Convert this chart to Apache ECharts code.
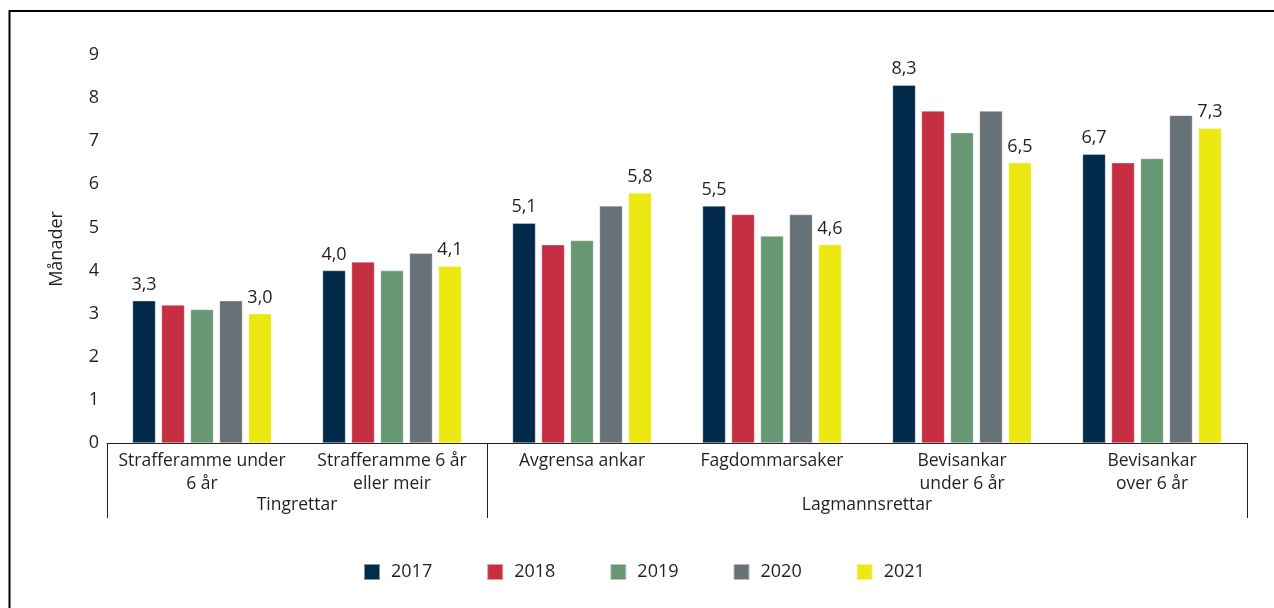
<!DOCTYPE html>
<html>
<head>
<meta charset="utf-8">
<script src="https://cdn.jsdelivr.net/npm/echarts@6/dist/echarts.min.js"></script>
<style>
  html, body { margin: 0; padding: 0; background: #fff; }
  #chart { width: 1274px; height: 608px; }
</style>
</head>
<body>
<div id="chart"></div>
<script>
// kategoriar og grupper
var categories = ['Strafferamme under\n6 år', 'Strafferamme 6 år\neller meir', 'Avgrensa ankar',
                  'Fagdommarsaker', 'Bevisankar\nunder 6 år', 'Bevisankar\nover 6 år'];
var groupNames = ['Tingrettar', 'Lagmannsrettar'];
var groupSpans = [2, 4];

var years = ['2017', '2018', '2019', '2020', '2021'];
var v2017 = [3.3, 4.0, 5.1, 5.5, 8.3, 6.7];
var v2018 = [3.2, 4.2, 4.6, 5.3, 7.7, 6.5];
var v2019 = [3.1, 4.0, 4.7, 4.8, 7.2, 6.6];
var v2020 = [3.3, 4.4, 5.5, 5.3, 7.7, 7.6];
var v2021 = [3.0, 4.1, 5.8, 4.6, 6.5, 7.3];
var yTicks = [0, 1, 2, 3, 4, 5, 6, 7, 8, 9];

var colors = ['#022b4b', '#c62f41', '#689873', '#677278', '#ece812'];
var values = [v2017, v2018, v2019, v2020, v2021];
var labelled = [true, false, false, false, true]; // berre 2017 og 2021 har tal

var font = 'Open Sans';
var ink = '#231f20';

// grenser og midtpunkt for gruppene
var bounds = [0], centers = [];
groupSpans.forEach(function (s) {
    var start = bounds[bounds.length - 1];
    centers.push(start + s / 2);
    bounds.push(start + s);
});

var series = years.map(function (y, i) {
    return {
        name: y,
        type: 'bar',
        xAxisIndex: 0,
        barWidth: 23,
        barGap: '26%',
        data: values[i],
        itemStyle: { color: colors[i], borderColor: 'rgba(255,255,255,0.5)', borderWidth: 0.6 },
        label: {
            show: labelled[i],
            position: 'top',
            distance: 7,
            color: ink,
            fontFamily: font,
            fontSize: 18,
            formatter: function (p) { return p.value.toFixed(1).replace('.', ','); }
        }
    };
});

var option = {
    animation: false,
    color: colors,
    textStyle: { fontFamily: font },
    graphic: [{
        type: 'rect',
        shape: { x: 9.5, y: 11, width: 1400, height: 800 },
        style: { fill: 'none', stroke: '#000', lineWidth: 2 },
        silent: true
    }],
    grid: { left: 107, right: 27, top: 55, bottom: 165 },
    legend: {
        bottom: 22,
        left: 358,
        icon: 'rect',
        itemWidth: 16,
        itemHeight: 16,
        itemGap: 54,
        textStyle: { fontFamily: font, fontSize: 18, color: ink, padding: [0, 0, 0, 6] },
        data: years
    },
    xAxis: [{
        type: 'category',
        data: categories,
        axisLine: { show: true, lineStyle: { color: ink, width: 1 } },
        axisTick: { show: false },
        axisLabel: {
            interval: 0,
            margin: 7,
            color: ink,
            fontFamily: font,
            fontSize: 17.5,
            lineHeight: 23
        }
    }, {
        type: 'value',
        min: 0,
        max: categories.length,
        position: 'bottom',
        axisLine: { show: false },
        splitLine: { show: false },
        axisTick: {
            show: true,
            customValues: bounds,
            length: 75,
            lineStyle: { color: ink, width: 1 }
        },
        axisLabel: {
            show: true,
            customValues: centers,
            margin: 53,
            color: ink,
            fontFamily: font,
            fontSize: 17.5,
            formatter: function (v) { return groupNames[centers.indexOf(v)]; }
        }
    }],
    yAxis: {
        type: 'value',
        min: yTicks[0],
        max: yTicks[yTicks.length - 1],
        interval: 1,
        name: 'Månader',
        nameLocation: 'middle',
        nameGap: 41,
        nameTextStyle: { fontFamily: font, fontSize: 18, color: ink },
        axisLine: { show: false },
        axisTick: { show: false },
        splitLine: { show: false },
        axisLabel: {
            margin: 8,
            color: ink,
            fontFamily: font,
            fontSize: 18
        }
    },
    series: series
};

var chart = echarts.init(document.getElementById('chart'));
chart.setOption(option);
</script>
</body>
</html>
